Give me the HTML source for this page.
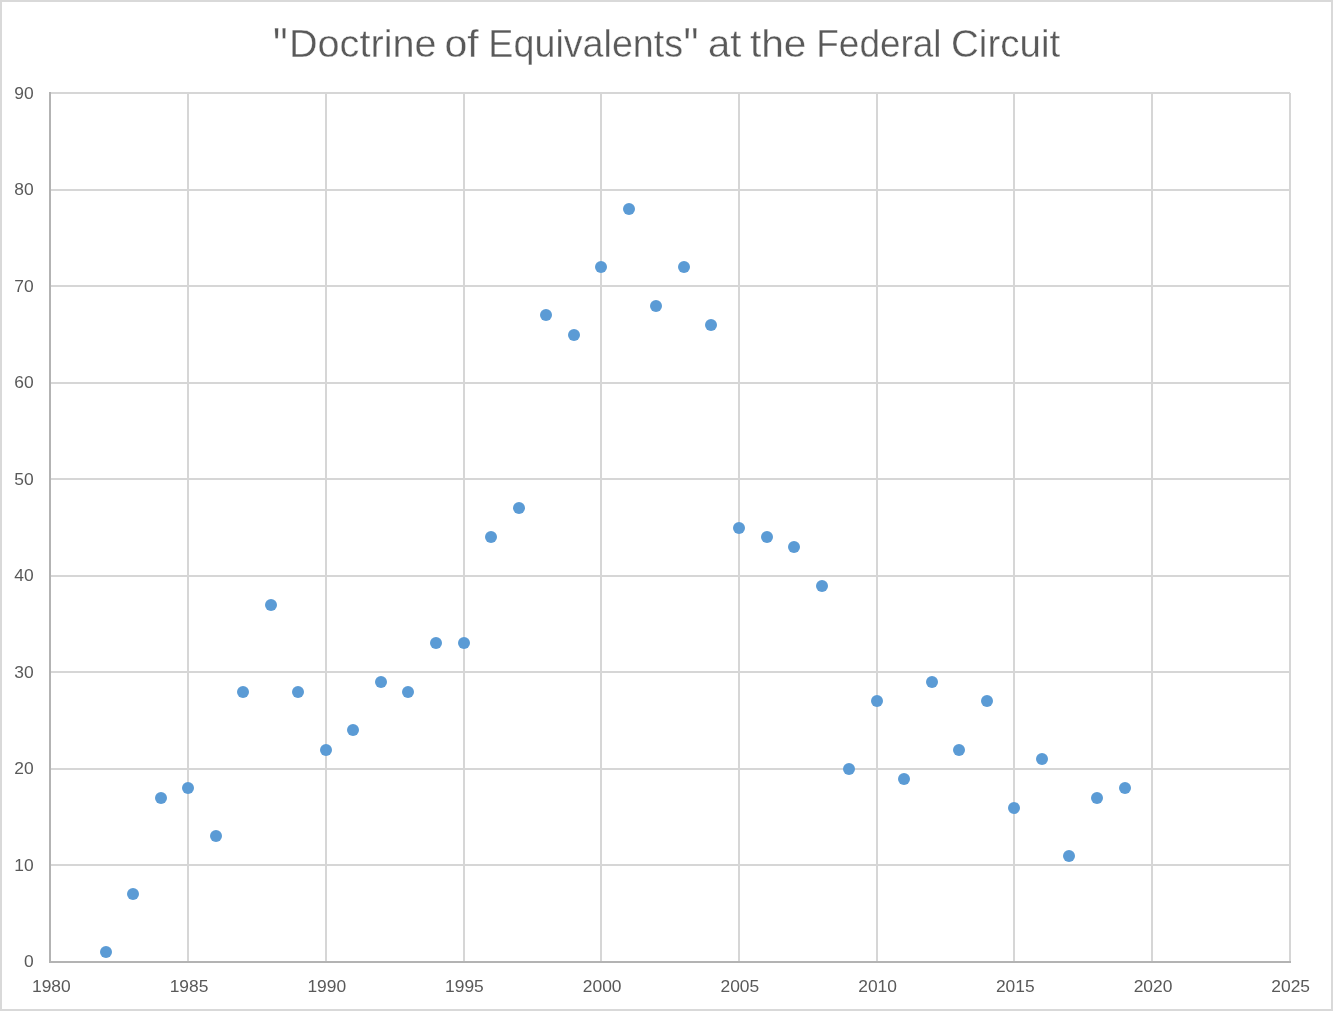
<!DOCTYPE html><html><head><meta charset="utf-8"><style>html,body{margin:0;padding:0;background:#fff;width:1333px;height:1011px;overflow:hidden}svg{display:block;will-change:transform}text{font-family:"Liberation Sans",sans-serif;fill:#595959}</style></head><body>
<svg width="1333" height="1011" viewBox="0 0 1333 1011">
<rect x="0" y="0" width="1333" height="1011" fill="#fff"/>
<rect x="1" y="1" width="1331" height="1009" fill="none" stroke="#d9d9d9" stroke-width="2"/>
<line x1="50.00" y1="865.00" x2="1290.00" y2="865.00" stroke="#d6d6d6" stroke-width="2"/>
<line x1="50.00" y1="769.00" x2="1290.00" y2="769.00" stroke="#d6d6d6" stroke-width="2"/>
<line x1="50.00" y1="672.00" x2="1290.00" y2="672.00" stroke="#d6d6d6" stroke-width="2"/>
<line x1="50.00" y1="576.00" x2="1290.00" y2="576.00" stroke="#d6d6d6" stroke-width="2"/>
<line x1="50.00" y1="479.00" x2="1290.00" y2="479.00" stroke="#d6d6d6" stroke-width="2"/>
<line x1="50.00" y1="383.00" x2="1290.00" y2="383.00" stroke="#d6d6d6" stroke-width="2"/>
<line x1="50.00" y1="286.00" x2="1290.00" y2="286.00" stroke="#d6d6d6" stroke-width="2"/>
<line x1="50.00" y1="190.00" x2="1290.00" y2="190.00" stroke="#d6d6d6" stroke-width="2"/>
<line x1="50.00" y1="93.00" x2="1290.00" y2="93.00" stroke="#d6d6d6" stroke-width="2"/>
<line x1="188.00" y1="93.00" x2="188.00" y2="962.00" stroke="#d6d6d6" stroke-width="2"/>
<line x1="326.00" y1="93.00" x2="326.00" y2="962.00" stroke="#d6d6d6" stroke-width="2"/>
<line x1="464.00" y1="93.00" x2="464.00" y2="962.00" stroke="#d6d6d6" stroke-width="2"/>
<line x1="601.00" y1="93.00" x2="601.00" y2="962.00" stroke="#d6d6d6" stroke-width="2"/>
<line x1="739.00" y1="93.00" x2="739.00" y2="962.00" stroke="#d6d6d6" stroke-width="2"/>
<line x1="877.00" y1="93.00" x2="877.00" y2="962.00" stroke="#d6d6d6" stroke-width="2"/>
<line x1="1014.00" y1="93.00" x2="1014.00" y2="962.00" stroke="#d6d6d6" stroke-width="2"/>
<line x1="1152.00" y1="93.00" x2="1152.00" y2="962.00" stroke="#d6d6d6" stroke-width="2"/>
<line x1="1290.00" y1="93.00" x2="1290.00" y2="962.00" stroke="#d6d6d6" stroke-width="2"/>
<line x1="50.00" y1="92.00" x2="50.00" y2="963.00" stroke="#b3b3b3" stroke-width="2"/>
<line x1="49.00" y1="962.00" x2="1291.00" y2="962.00" stroke="#b3b3b3" stroke-width="2"/>
<text x="33.60" y="967" font-size="17.40" text-anchor="end">0</text>
<text x="33.60" y="871" font-size="17.40" text-anchor="end">10</text>
<text x="33.60" y="774" font-size="17.40" text-anchor="end">20</text>
<text x="33.60" y="678" font-size="17.40" text-anchor="end">30</text>
<text x="33.60" y="581" font-size="17.40" text-anchor="end">40</text>
<text x="33.60" y="485" font-size="17.40" text-anchor="end">50</text>
<text x="33.60" y="388" font-size="17.40" text-anchor="end">60</text>
<text x="33.60" y="292" font-size="17.40" text-anchor="end">70</text>
<text x="33.60" y="195" font-size="17.40" text-anchor="end">80</text>
<text x="33.60" y="99" font-size="17.40" text-anchor="end">90</text>
<text x="51.35" y="992.20" font-size="17.40" text-anchor="middle">1980</text>
<text x="189.05" y="992.20" font-size="17.40" text-anchor="middle">1985</text>
<text x="326.76" y="992.20" font-size="17.40" text-anchor="middle">1990</text>
<text x="464.46" y="992.20" font-size="17.40" text-anchor="middle">1995</text>
<text x="602.16" y="992.20" font-size="17.40" text-anchor="middle">2000</text>
<text x="739.87" y="992.20" font-size="17.40" text-anchor="middle">2005</text>
<text x="877.57" y="992.20" font-size="17.40" text-anchor="middle">2010</text>
<text x="1015.27" y="992.20" font-size="17.40" text-anchor="middle">2015</text>
<text x="1152.98" y="992.20" font-size="17.40" text-anchor="middle">2020</text>
<text x="1290.68" y="992.20" font-size="17.40" text-anchor="middle">2025</text>
<text transform="matrix(1.0215 0 0 1 288.98 57.30)" font-size="38.80" stroke="#fff" stroke-width="0.35">Doctrine</text>
<text transform="matrix(1.0581 0 0 1 444.41 57.30)" font-size="38.80" stroke="#fff" stroke-width="0.35">of</text>
<text transform="matrix(0.9714 0 0 1 488.34 57.30)" font-size="38.80" stroke="#fff" stroke-width="0.35">Equivalents</text>
<text transform="matrix(1.0281 0 0 1 708.00 57.30)" font-size="38.80" stroke="#fff" stroke-width="0.35">at</text>
<text transform="matrix(1.0493 0 0 1 749.88 57.30)" font-size="38.80" stroke="#fff" stroke-width="0.35">the</text>
<text transform="matrix(0.9527 0 0 1 816.30 57.30)" font-size="38.80" stroke="#fff" stroke-width="0.35">Federal</text>
<text transform="matrix(0.9930 0 0 1 951.01 57.30)" font-size="38.80" stroke="#fff" stroke-width="0.35">Circuit</text>
<text transform="matrix(1.0634 0 0 1.2941 273.04 62.92)" font-size="38.80" stroke="#fff" stroke-width="0.35">&quot;</text>
<text transform="matrix(1.0927 0 0 1.2941 683.39 62.92)" font-size="38.80" stroke="#fff" stroke-width="0.35">&quot;</text>
<circle cx="106.00" cy="952.00" r="6.00" fill="#5b9bd5"/>
<circle cx="133.00" cy="894.00" r="6.00" fill="#5b9bd5"/>
<circle cx="161.00" cy="798.00" r="6.00" fill="#5b9bd5"/>
<circle cx="188.00" cy="788.00" r="6.00" fill="#5b9bd5"/>
<circle cx="216.00" cy="836.00" r="6.00" fill="#5b9bd5"/>
<circle cx="243.00" cy="692.00" r="6.00" fill="#5b9bd5"/>
<circle cx="271.00" cy="605.00" r="6.00" fill="#5b9bd5"/>
<circle cx="298.00" cy="692.00" r="6.00" fill="#5b9bd5"/>
<circle cx="326.00" cy="750.00" r="6.00" fill="#5b9bd5"/>
<circle cx="353.00" cy="730.00" r="6.00" fill="#5b9bd5"/>
<circle cx="381.00" cy="682.00" r="6.00" fill="#5b9bd5"/>
<circle cx="408.00" cy="692.00" r="6.00" fill="#5b9bd5"/>
<circle cx="436.00" cy="643.00" r="6.00" fill="#5b9bd5"/>
<circle cx="464.00" cy="643.00" r="6.00" fill="#5b9bd5"/>
<circle cx="491.00" cy="537.00" r="6.00" fill="#5b9bd5"/>
<circle cx="519.00" cy="508.00" r="6.00" fill="#5b9bd5"/>
<circle cx="546.00" cy="315.00" r="6.00" fill="#5b9bd5"/>
<circle cx="574.00" cy="335.00" r="6.00" fill="#5b9bd5"/>
<circle cx="601.00" cy="267.00" r="6.00" fill="#5b9bd5"/>
<circle cx="629.00" cy="209.00" r="6.00" fill="#5b9bd5"/>
<circle cx="656.00" cy="306.00" r="6.00" fill="#5b9bd5"/>
<circle cx="684.00" cy="267.00" r="6.00" fill="#5b9bd5"/>
<circle cx="711.00" cy="325.00" r="6.00" fill="#5b9bd5"/>
<circle cx="739.00" cy="528.00" r="6.00" fill="#5b9bd5"/>
<circle cx="767.00" cy="537.00" r="6.00" fill="#5b9bd5"/>
<circle cx="794.00" cy="547.00" r="6.00" fill="#5b9bd5"/>
<circle cx="822.00" cy="586.00" r="6.00" fill="#5b9bd5"/>
<circle cx="849.00" cy="769.00" r="6.00" fill="#5b9bd5"/>
<circle cx="877.00" cy="701.00" r="6.00" fill="#5b9bd5"/>
<circle cx="904.00" cy="779.00" r="6.00" fill="#5b9bd5"/>
<circle cx="932.00" cy="682.00" r="6.00" fill="#5b9bd5"/>
<circle cx="959.00" cy="750.00" r="6.00" fill="#5b9bd5"/>
<circle cx="987.00" cy="701.00" r="6.00" fill="#5b9bd5"/>
<circle cx="1014.00" cy="808.00" r="6.00" fill="#5b9bd5"/>
<circle cx="1042.00" cy="759.00" r="6.00" fill="#5b9bd5"/>
<circle cx="1069.00" cy="856.00" r="6.00" fill="#5b9bd5"/>
<circle cx="1097.00" cy="798.00" r="6.00" fill="#5b9bd5"/>
<circle cx="1125.00" cy="788.00" r="6.00" fill="#5b9bd5"/>
</svg></body></html>
